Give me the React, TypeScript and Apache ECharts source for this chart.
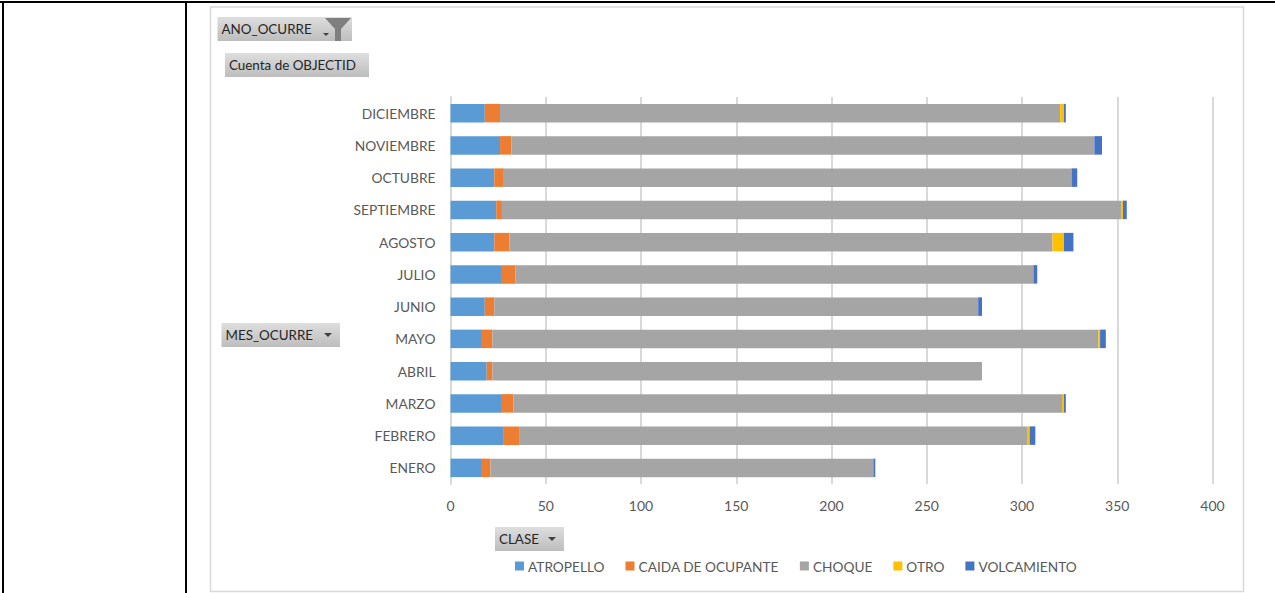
import React, { useEffect, useRef } from "react";
import * as echarts from "echarts";

const months = ["ENERO", "FEBRERO", "MARZO", "ABRIL", "MAYO", "JUNIO", "JULIO", "AGOSTO", "SEPTIEMBRE", "OCTUBRE", "NOVIEMBRE", "DICIEMBRE"];
const atropello = [16, 28, 27, 19, 16, 18, 27, 23, 24, 23, 26, 18];
const caida = [5, 8, 6, 3, 6, 5, 7, 8, 3, 5, 6, 8];
const choque = [201, 267, 288, 257, 318, 254, 272, 285, 325, 298, 306, 294];
const otro = [0, 1, 1, 0, 1, 0, 0, 6, 1, 0, 0, 2];
const volcamiento = [1, 3, 1, 0, 3, 2, 2, 5, 2, 3, 4, 1];
const xTicks = { min: 0, max: 400, interval: 50 };

const FONT = "Lato";
const LABEL = "#595959";
const RULE = "#d9d9d9";

const seriesDefs = [
  { name: "ATROPELLO", data: atropello, color: "#5b9bd5" },
  { name: "CAIDA DE OCUPANTE", data: caida, color: "#ed7d31" },
  { name: "CHOQUE", data: choque, color: "#a5a5a5" },
  { name: "OTRO", data: otro, color: "#ffc000" },
  { name: "VOLCAMIENTO", data: volcamiento, color: "#4472c4" },
];

echarts.graphic.registerShape(
  "funnelIcon",
  echarts.graphic.extendPath("M0 0 L26 0 L16 11 L16 23 L10 23 L10 11 Z", {})
);

// Pivot-field button: grey gradient box with its caption and optional drop arrow.
function fieldButton(x: number, y: number, w: number, caption: string, arrow: boolean) {
  const h = 24;
  const items: any[] = [
    {
      type: "rect",
      shape: { x, y, width: w, height: h },
      style: {
        fill: new echarts.graphic.LinearGradient(0, 0, 0, 1, [
          { offset: 0, color: "#dedede" },
          { offset: 1, color: "#bdbdbd" },
        ]),
      },
    },
    {
      type: "text",
      x: x + 4,
      y: y + h / 2,
      style: { text: caption, font: `13.4px ${FONT}`, fill: "#262626", verticalAlign: "middle", align: "left" },
    },
  ];
  if (arrow) {
    const ax = x + w - 16;
    const ay = y + h / 2 - 2;
    items.push({
      type: "polygon",
      shape: { points: [[ax, ay], [ax + 8, ay], [ax + 4, ay + 4]] },
      style: { fill: "#404040" },
    });
  }
  return items;
}

export default function App() {
  const ref = useRef<HTMLDivElement>(null);

  useEffect(() => {
    const chart = echarts.init(ref.current!, undefined, { renderer: "svg" });
    chart.setOption({
      animation: false,
      backgroundColor: "#ffffff",
      grid: { left: 450.5, right: 62.5, top: 97, bottom: 109, containLabel: false },
      legend: {
        left: 510,
        top: 554,
        icon: "rect",
        itemWidth: 9,
        itemHeight: 9,
        itemGap: 21,
        textStyle: { color: LABEL, fontFamily: FONT, fontSize: 13.7, padding: [0, 0, 0, -1] },
        data: seriesDefs.map((s) => s.name),
      },
      xAxis: {
        type: "value",
        min: xTicks.min,
        max: xTicks.max,
        interval: xTicks.interval,
        axisLine: { show: false },
        axisTick: { show: false },
        axisLabel: { color: LABEL, fontFamily: FONT, fontSize: 14, margin: 14 },
        splitLine: { lineStyle: { color: RULE, width: 2 } },
      },
      yAxis: {
        type: "category",
        data: months,
        axisLine: { lineStyle: { color: RULE, width: 2 } },
        axisTick: { show: false },
        axisLabel: { color: LABEL, fontFamily: FONT, fontSize: 13.8, margin: 15, verticalAlign: "middle", padding: [0, 0, 3, 0] },
      },
      series: seriesDefs.map((s) => ({
        name: s.name,
        type: "bar",
        stack: "clase",
        barWidth: 18.5,
        data: s.data,
        itemStyle: { color: s.color },
      })),
      graphic: {
        elements: [
          // Table cell rules around the chart
          { type: "rect", shape: { x: 0, y: 1, width: 1275, height: 2 }, style: { fill: "#000000" } },
          { type: "rect", shape: { x: 2, y: 1, width: 2, height: 592 }, style: { fill: "#000000" } },
          { type: "rect", shape: { x: 185, y: 1, width: 2, height: 592 }, style: { fill: "#000000" } },
          // Chart area frame
          {
            type: "rect",
            shape: { x: 210.5, y: 7, width: 1033, height: 584.5 },
            style: { fill: "none", stroke: RULE, lineWidth: 1.5 },
          },
          ...fieldButton(217.5, 17, 134.5, "ANO_OCURRE", false),
          { type: "polygon", shape: { points: [[323, 33], [329, 33], [326, 36]] }, style: { fill: "#404040" } },
          { type: "funnelIcon", x: 325, y: 18, style: { fill: "#7f7f7f" } },
          ...fieldButton(225, 53, 144, "Cuenta de OBJECTID", false),
          ...fieldButton(221.5, 323, 118.5, "MES_OCURRE", true),
          ...fieldButton(495, 527, 69, "CLASE", true),
        ],
      },
    });
    return () => chart.dispose();
  }, []);

  return <div ref={ref} style={{ position: "fixed", left: 0, top: 0, width: 1275, height: 593 }} />;
}
